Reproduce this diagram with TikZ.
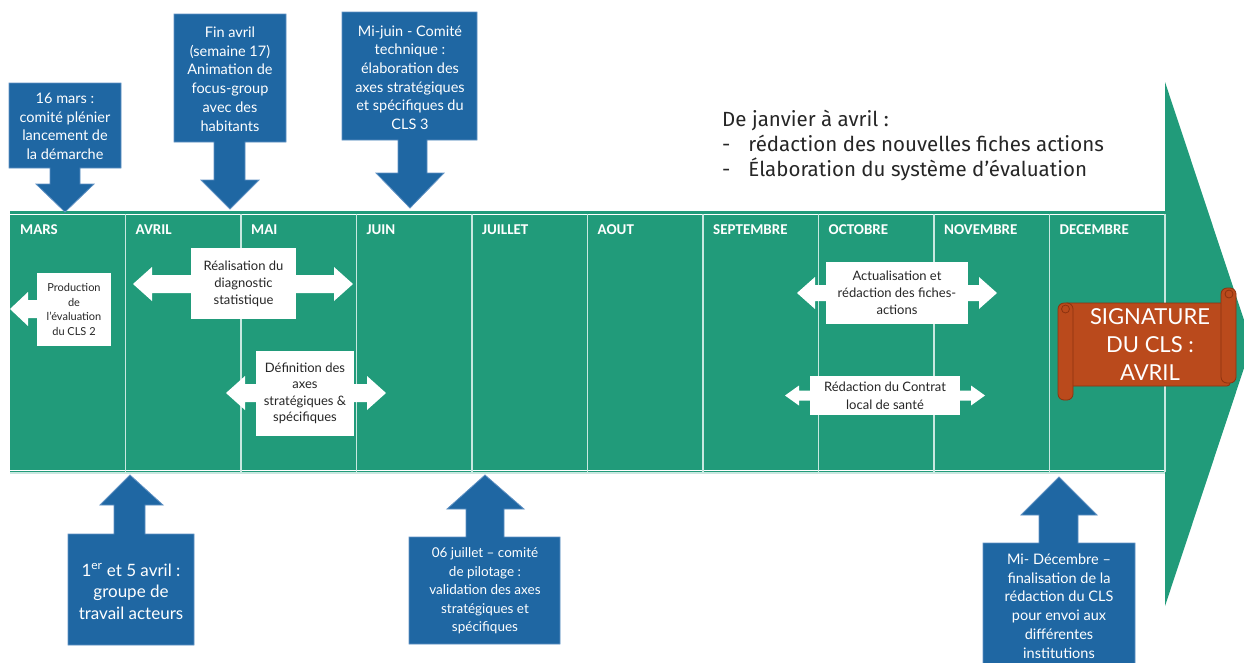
\documentclass[tikz,border=0pt]{standalone}
\usepackage{fontspec}
\setmainfont{Lato}
\newfontfamily\monthfont{Carlito}
\newfontfamily\dinfont{Fira Sans}
\definecolor{cgreen}{RGB}{33,155,122}
\definecolor{cblue}{RGB}{31,103,163}
\definecolor{cblueedge}{RGB}{95,145,195}
\definecolor{cscroll}{RGB}{186,74,28}
\definecolor{cscrolledge}{RGB}{140,50,15}
\definecolor{ctext}{RGB}{38,38,38}
\definecolor{cline}{RGB}{200,232,224}
\newcommand\dblarrow[6]{% xl, xr, c, H, h, L
  \fill[white] (#1,#3) -- ({#1+#6},{#3-#4}) -- ({#1+#6},{#3-#5}) -- ({#2-#6},{#3-#5}) -- ({#2-#6},{#3-#4}) -- (#2,#3) -- ({#2-#6},{#3+#4}) -- ({#2-#6},{#3+#5}) -- ({#1+#6},{#3+#5}) -- ({#1+#6},{#3+#4}) -- cycle;}
% down callout: x1,y1,x2,y2 (box), sx1,sx2, hy, hx1,hx2, tipx,tipy
\newcommand\downcall[2]{\foreach \xa/\ya/\xb/\yb in {#1}{\foreach \sa/\sb/\hy/\ha/\hb/\tx/\ty in {#2}{%
  \draw[callout] (\xa,\ya) -- (\xb,\ya) -- (\xb,\yb) -- (\sb,\yb) -- (\sb,\hy) -- (\hb,\hy) -- (\tx,\ty) -- (\ha,\hy) -- (\sa,\hy) -- (\sa,\yb) -- (\xa,\yb) -- cycle;}}}
\tikzset{
  callout/.style={fill=cblue, draw=cblueedge, line width=0.8pt},
  calltext/.style={text=white, align=center, inner sep=0pt},
  wbox/.style={fill=white, draw=none, text=ctext, align=center, inner sep=0pt},
  month/.style={text=white, anchor=west, inner sep=0pt, font=\monthfont\bfseries\fontsize{15}{17}\selectfont},
  scrollpart/.style={fill=cscroll, draw=cscrolledge, line width=0.8pt},
}
\begin{document}
\begin{tikzpicture}[x=1pt,y=-1pt]
\useasboundingbox (0,0) rectangle (1244,662);
\clip (0,0) rectangle (1244,662);
% big green arrow
\fill[cgreen] (1165,82) -- (1252,344) -- (1165,606) -- cycle;
\fill[cgreen] (10,211) rectangle (1165,472);
\draw[white, line width=1.3pt] (10,214.5) -- (1165,214.5);
\draw[white, line width=1.3pt] (10,470.5) -- (1165,470.5);
\draw[cline, line width=1.2pt] (10,473) -- (1165,473);
\foreach \i in {1,...,10} \draw[cline, line width=1.2pt] ({10+115.5*\i},214) -- ({10+115.5*\i},472);
% months
\foreach \m [count=\i from 0] in {MARS,AVRIL,MAI,JUIN,JUILLET,AOUT,SEPTEMBRE,OCTOBRE,NOVEMBRE,DECEMBRE}
  \node[month] (m\i) at ({20+115.5*\i},230) {\m};
% top text
\node[anchor=west, inner sep=0pt, text=ctext, align=left, font=\dinfont\fontsize{20.5}{25}\selectfont] (jan) at (722,145)
  {De janvier à avril :\\
   -\hspace{18pt}rédaction des nouvelles fiches actions\\
   -\hspace{18pt}Élaboration du système d’évaluation};
% top callouts
\downcall{9/83/121/168}{50/80/184/36/94/65/212}
\node[calltext, font=\fontsize{14.5}{18.5}\selectfont] (c1) at (65,126.5) {16 mars :\\comité plénier\\lancement de\\la démarche};
\downcall{174/14/286/142}{214/245/180/201/259/230/209}
\node[calltext, font=\fontsize{14.5}{18.7}\selectfont] (c2) at (230,79) {Fin avril\\(semaine 17)\\Animation de\\focus-group\\avec des\\habitants};
\downcall{342/12/477/140}{398/427/173/376/444/410/208}
\node[calltext, font=\fontsize{14.5}{18.6}\selectfont] (c3) at (410,77.5) {Mi-juin - Comité\\technique :\\élaboration des\\axes stratégiques\\et spécifiques du\\CLS 3};
% bottom callouts
\downcall{68/645/194/534}{114/145/505/100/163/130/475}
\node[calltext, font=\fontsize{17}{21.5}\selectfont] (b1) at (131,591.5) {1\textsuperscript{er} et 5 avril :\\groupe de\\travail acteurs};
\downcall{409/644/560/537}{466/504/509/447/524/485/475}
\node[calltext, font=\fontsize{13.5}{18.5}\selectfont] (b2) at (485,591) {06 juillet – comité\\de pilotage :\\validation des axes\\stratégiques et\\spécifiques};
\downcall{983/690/1135/543}{1039/1078/515/1021/1097/1059/477}
\node[calltext, font=\fontsize{14.5}{18.8}\selectfont] (b3) at (1059,606) {Mi- Décembre –\\finalisation de la\\rédaction du CLS\\pour envoi aux\\différentes\\institutions};
% white arrows
\fill[white] (10,309) -- (28,292) -- (28,300) -- (40,300) -- (40,318) -- (28,318) -- (28,326) -- cycle;
\node[wbox, minimum width=74pt, minimum height=73pt, font=\fontsize{11}{14.5}\selectfont] (a1) at (74,309.5) {Production\\de\\l'évaluation\\du CLS 2};
\dblarrow{133}{353}{284}{17}{9}{19}
\node[wbox, minimum width=105pt, minimum height=71pt, font=\fontsize{13}{17}\selectfont] (a2) at (243.5,283.5) {Réalisation du\\diagnostic\\statistique};
\dblarrow{226}{386}{393}{17}{9}{19}
\node[wbox, minimum width=98pt, minimum height=85pt, font=\fontsize{13}{16.5}\selectfont] (a3) at (305,393.5) {Définition des\\axes\\stratégiques \&\\spécifiques};
\dblarrow{797}{997}{293}{16}{8}{18}
\node[wbox, minimum width=142pt, minimum height=62pt, font=\fontsize{13}{17}\selectfont] (a4) at (897,293) {Actualisation et\\rédaction des fiches-\\actions};
\dblarrow{785}{985}{395.5}{10}{5}{14}
\node[wbox, minimum width=150pt, minimum height=39pt, font=\fontsize{13}{18}\selectfont] (a5) at (885,395.5) {Rédaction du Contrat\\local de santé};
% scroll
\draw[scrollpart, rounded corners=3pt] (1064,303) rectangle (1230,386);
\draw[scrollpart, rounded corners=6pt] (1221,288) rectangle (1236,383);
\draw[scrollpart] (1229,294) circle (4);
\draw[scrollpart, rounded corners=6pt] (1058,303) rectangle (1073,400);
\draw[scrollpart] (1065.5,309) circle (4);
\node[calltext, font=\fontsize{22}{28}\selectfont] (sig) at (1150,345) {SIGNATURE\\DU CLS :\\AVRIL};
\end{tikzpicture}
\end{document}
